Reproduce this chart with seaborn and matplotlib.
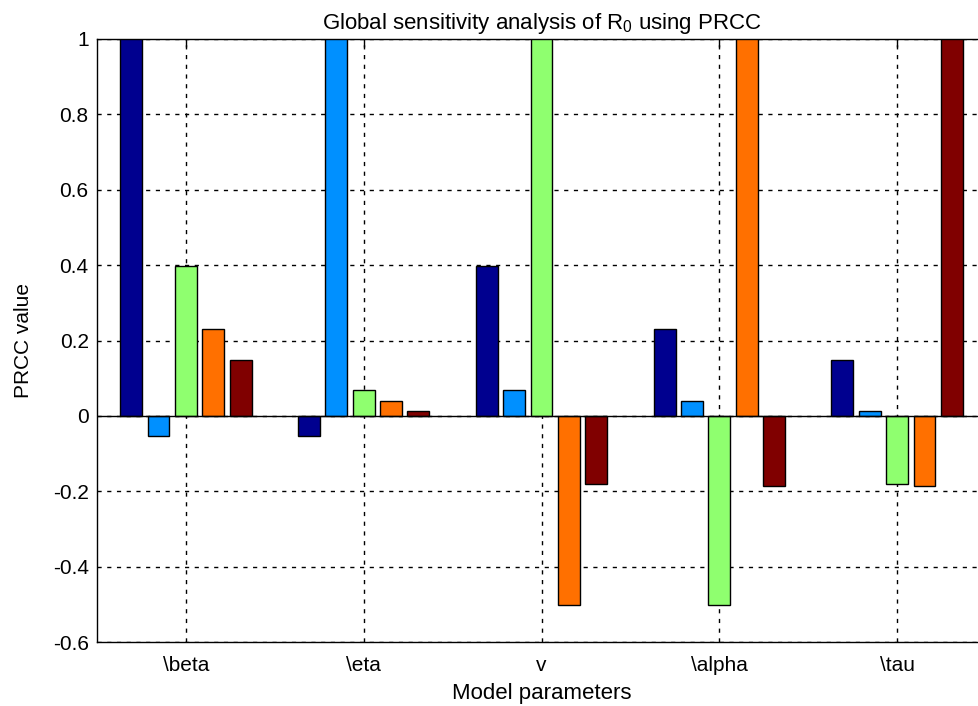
import matplotlib
matplotlib.use("Agg")
import matplotlib.pyplot as plt
import seaborn as sns
import pandas as pd

# ---- data ----
parameters = ["\\beta", "\\eta", "v", "\\alpha", "\\tau"]
series = ["beta", "eta", "v", "alpha", "tau"]
prcc_beta = [1.0, -0.053, 0.397, 0.230, 0.148]
prcc_eta = [-0.053, 1.0, 0.068, 0.040, 0.013]
prcc_v = [0.397, 0.068, 1.0, -0.503, -0.181]
prcc_alpha = [0.230, 0.040, -0.503, 1.0, -0.186]
prcc_tau = [0.148, 0.013, -0.181, -0.186, 1.0]
yticks = [-0.6, -0.4, -0.2, 0, 0.2, 0.4, 0.6, 0.8, 1]
ytick_labels = ["-0.6", "-0.4", "-0.2", "0", "0.2", "0.4", "0.6", "0.8", "1"]
colors = ["#00008F", "#0090FF", "#8FFF6F", "#FF7000", "#800000"]

rows = []
for p, vals in zip(parameters, [prcc_beta, prcc_eta, prcc_v, prcc_alpha, prcc_tau]):
    for s, v in zip(series, vals):
        rows.append({"param": p, "series": s, "value": v})
df = pd.DataFrame(rows)

sns.set_style("white")
plt.rcParams["font.family"] = ["Liberation Sans", "DejaVu Sans"]
plt.rcParams["mathtext.fontset"] = "custom"
plt.rcParams["mathtext.rm"] = "Liberation Sans"
plt.rcParams["text.color"] = "black"
plt.rcParams["axes.labelcolor"] = "black"

fig = plt.figure(figsize=(9.79, 7.06), dpi=100)
ax = fig.add_axes([97 / 979, (706 - 642) / 706, (986 - 97) / 979, (642 - 39) / 706])

sns.barplot(data=df, x="param", y="value", hue="series", order=parameters,
            hue_order=series, palette=colors, width=0.769, gap=0.2,
            edgecolor="black", linewidth=1.0, legend=False, ax=ax,
            errorbar=None, zorder=3, saturation=1)

ax.set_xlim(-0.5, 4.5)
ax.set_ylim(-0.6, 1.0)
ax.set_yticks(yticks)
ax.set_yticklabels(ytick_labels)
ax.axhline(0, color="black", lw=1.0, zorder=4)

ax.grid(True, color="black", linestyle=(0, (3, 4)), linewidth=1.0)
ax.set_axisbelow(True)
for s in ax.spines.values():
    s.set_color("black")
    s.set_linewidth(1.0)
    s.set_visible(True)
ax.tick_params(direction="in", length=6, width=1, top=True, right=True,
               labelsize=15, colors="black")
ax.tick_params(axis="x", pad=10)
ax.tick_params(axis="y", pad=6)

ax.set_title("Global sensitivity analysis of R$_\\mathregular{0}$ using PRCC",
             fontsize=16, pad=7, color="black")
ax.set_xlabel("Model parameters", fontsize=16, labelpad=6, color="black")
ax.set_ylabel("PRCC value", fontsize=15, labelpad=14, color="black")

fig.savefig("out.png", dpi=100)
